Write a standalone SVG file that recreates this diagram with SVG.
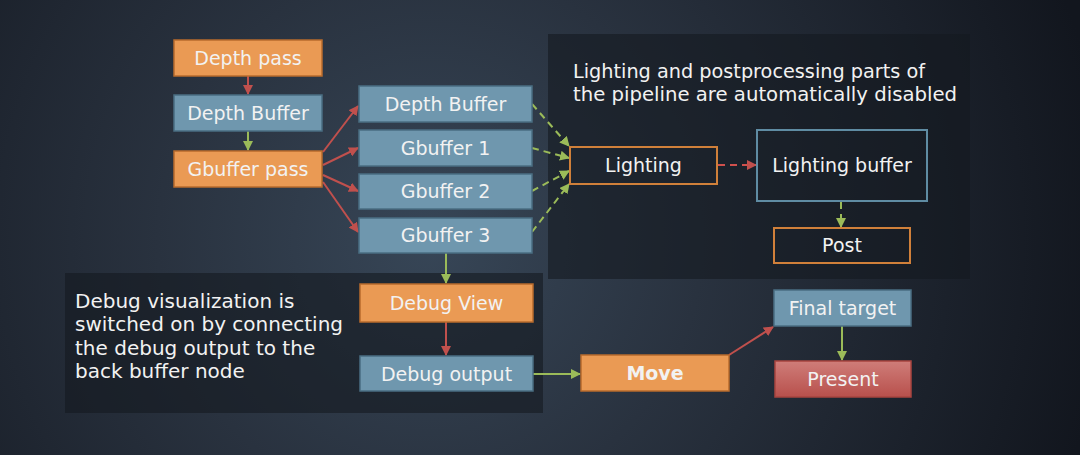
<svg xmlns="http://www.w3.org/2000/svg" width="1080" height="455" viewBox="0 0 1080 455">
<defs>
<radialGradient id="bg" cx="430" cy="240" r="680" gradientUnits="userSpaceOnUse">
<stop offset="0" stop-color="#374657"/>
<stop offset="0.4" stop-color="#29323f"/>
<stop offset="1" stop-color="#12161e"/>
</radialGradient>
<linearGradient id="redg" x1="0" y1="0" x2="0" y2="1">
<stop offset="0" stop-color="#cf7d79"/>
<stop offset="1" stop-color="#b8504c"/>
</linearGradient>
<marker id="ar" viewBox="0 0 10 10" refX="9" refY="5" markerWidth="5" markerHeight="5" orient="auto"><path d="M0,0L10,5L0,10z" fill="#c0504d"/></marker>
<marker id="ag" viewBox="0 0 10 10" refX="9" refY="5" markerWidth="5" markerHeight="5" orient="auto"><path d="M0,0L10,5L0,10z" fill="#9bbb59"/></marker>
</defs>
<style>
text{font-family:"DejaVu Sans","Liberation Sans",sans-serif;fill:#f2f2f2}
.n{font-size:19px;text-anchor:middle}
.p{font-size:20px}
.or{fill:#ea9a54;stroke:#b86b2c;stroke-width:1.5}
.bl{fill:#6f97ae;stroke:#4a6e82;stroke-width:1.5}
.oo{fill:none;stroke:#d0803a;stroke-width:2}
.bo{fill:none;stroke:#5f8ca3;stroke-width:2}
.re{fill:url(#redg);stroke:#a8443f;stroke-width:1.5}
.panel{fill:#141920;fill-opacity:0.6}
.lr{stroke:#c0504d;stroke-width:2;fill:none;marker-end:url(#ar)}
.lg{stroke:#9bbb59;stroke-width:2;fill:none;marker-end:url(#ag)}
.dr{stroke:#d0504d;stroke-dasharray:7 5}
.dg{stroke-dasharray:7 5}
</style>
<rect width="1080" height="455" fill="url(#bg)"/>
<rect class="panel" x="548" y="34" width="422" height="245"/>
<rect class="panel" x="65" y="273" width="478" height="140"/>
<text class="p" x="573" y="78" textLength="352" lengthAdjust="spacingAndGlyphs">Lighting and postprocessing parts of</text>
<text class="p" x="573" y="101" textLength="384" lengthAdjust="spacingAndGlyphs">the pipeline are automatically disabled</text>
<text class="p" x="75" y="308">Debug visualization is</text>
<text class="p" x="75" y="331">switched on by connecting</text>
<text class="p" x="75" y="355">the debug output to the</text>
<text class="p" x="75" y="378">back buffer node</text>
<g id="connectors">
<line class="lr" x1="248" y1="76" x2="248" y2="94"/>
<line class="lg" x1="248" y1="131" x2="248" y2="150"/>
<line class="lr" x1="323" y1="152" x2="358" y2="106"/>
<line class="lr" x1="323" y1="165" x2="358" y2="148"/>
<line class="lr" x1="323" y1="175" x2="358" y2="191"/>
<line class="lr" x1="323" y1="182" x2="358" y2="232"/>
<line class="lg dg" x1="532" y1="104" x2="569" y2="146"/>
<line class="lg dg" x1="532" y1="148" x2="569" y2="158"/>
<line class="lg dg" x1="532" y1="191" x2="569" y2="171"/>
<line class="lg dg" x1="532" y1="232" x2="569" y2="184"/>
<line class="lr dr" x1="718" y1="165" x2="756" y2="165"/>
<line class="lg dg" x1="841" y1="202" x2="841" y2="227"/>
<line class="lg" x1="446" y1="253" x2="446" y2="283"/>
<line class="lr" x1="446" y1="322" x2="446" y2="355"/>
<line class="lg" x1="533" y1="374" x2="580" y2="374"/>
<line class="lr" x1="729" y1="355" x2="773" y2="327"/>
<line class="lg" x1="842" y1="326" x2="842" y2="360"/>
</g>
<g id="depth-pass"><rect class="or" x="174" y="40" width="148" height="36"/><text class="n" x="248" y="65">Depth pass</text></g>
<g id="depth-buffer-1"><rect class="bl" x="174" y="95" width="148" height="36"/><text class="n" x="248" y="120">Depth Buffer</text></g>
<g id="gbuffer-pass"><rect class="or" x="174" y="151" width="148" height="36"/><text class="n" x="248" y="176">Gbuffer pass</text></g>
<g id="depth-buffer-2"><rect class="bl" x="359" y="86" width="173" height="36"/><text class="n" x="445.5" y="111">Depth Buffer</text></g>
<g id="gbuffer-1"><rect class="bl" x="359" y="130" width="173" height="36"/><text class="n" x="445.5" y="155">Gbuffer 1</text></g>
<g id="gbuffer-2"><rect class="bl" x="359" y="174" width="173" height="35"/><text class="n" x="445.5" y="198">Gbuffer 2</text></g>
<g id="gbuffer-3"><rect class="bl" x="359" y="218" width="173" height="35"/><text class="n" x="445.5" y="242">Gbuffer 3</text></g>
<g id="lighting"><rect class="oo" x="570" y="147" width="147" height="37"/><text class="n" x="643.5" y="172">Lighting</text></g>
<g id="lighting-buffer"><rect class="bo" x="757" y="130" width="170" height="71"/><text class="n" x="842" y="172">Lighting buffer</text></g>
<g id="post"><rect class="oo" x="774" y="228" width="136" height="35"/><text class="n" x="842" y="252">Post</text></g>
<g id="debug-view"><rect class="or" x="360" y="284" width="173" height="38"/><text class="n" x="446.5" y="310">Debug View</text></g>
<g id="debug-output"><rect class="bl" x="360" y="356" width="173" height="35"/><text class="n" x="446.5" y="381">Debug output</text></g>
<g id="move"><rect class="or" x="581" y="355" width="148" height="36"/><text class="n" x="655" y="380" font-weight="bold">Move</text></g>
<g id="final-target"><rect class="bl" x="774" y="290" width="137" height="36"/><text class="n" x="842.5" y="315">Final target</text></g>
<g id="present"><rect class="re" x="775" y="361" width="136" height="36"/><text class="n" x="843" y="386">Present</text></g>
</svg>
